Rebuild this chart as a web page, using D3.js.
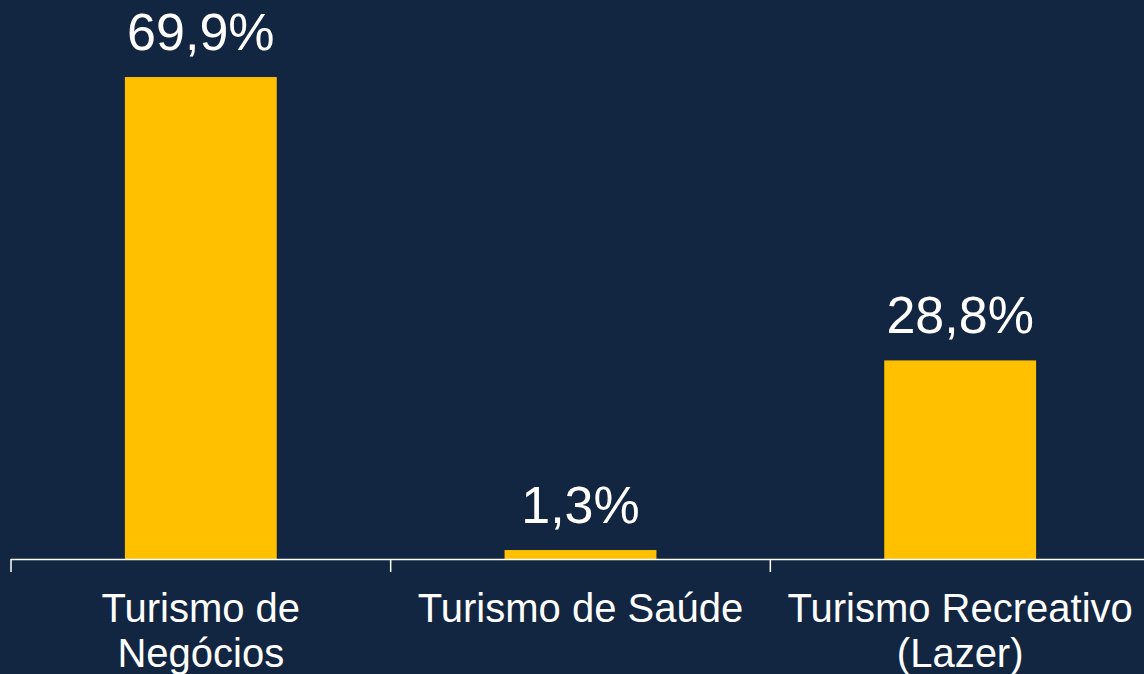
<!DOCTYPE html>
<html>
<head>
<meta charset="utf-8">
<script src="https://cdn.jsdelivr.net/npm/d3@7"></script>
<style>
  html, body { margin: 0; padding: 0; background: #122641; }
  svg { display: block; font-family: "Liberation Sans", Arial, sans-serif; }
</style>
</head>
<body>
<script>
const categories = ["Turismo de Negócios", "Turismo de Saúde", "Turismo Recreativo (Lazer)"];
const labelLines = [["Turismo de", "Negócios"], ["Turismo de Saúde"], ["Turismo Recreativo", "(Lazer)"]];
const values = [69.9, 1.3, 28.8];
const valueLabels = ["69,9%", "1,3%", "28,8%"];

const width = 1144;
const height = 674;
const baseY = 559;

const svg = d3.select("body").append("svg").attr("width", width).attr("height", height);

svg.append("rect").attr("width", width).attr("height", height).attr("fill", "#122641");

// x: one band per category, ticks on band edges
const xScale = d3.scaleBand()
  .domain(categories)
  .range([11, 1150])
  .padding(0);

const yScale = d3.scaleLinear()
  .domain([0, 70])
  .range([baseY, baseY - 70 * 6.895]);

const barWidth = xScale.bandwidth() * 0.4;

// bars
svg.append("g").selectAll("rect")
  .data(values)
  .enter()
  .append("rect")
  .attr("x", (d, i) => xScale(categories[i]) + (xScale.bandwidth() - barWidth) / 2)
  .attr("y", d => yScale(d))
  .attr("width", barWidth)
  .attr("height", d => yScale(0) - yScale(d))
  .attr("fill", "#FFC000");

// value labels
svg.append("g").selectAll("text")
  .data(values)
  .enter()
  .append("text")
  .attr("x", (d, i) => xScale(categories[i]) + xScale.bandwidth() / 2)
  .attr("y", d => yScale(d) - 27)
  .attr("text-anchor", "middle")
  .attr("fill", "#ffffff")
  .style("font-size", "52px")
  .text((d, i) => valueLabels[i]);

// axis line and tick marks on band boundaries
const axis = svg.append("g").attr("stroke", "#ffffff").attr("stroke-width", 1.5);
axis.append("line")
  .attr("x1", xScale.range()[0]).attr("x2", xScale.range()[1])
  .attr("y1", baseY + 0.5).attr("y2", baseY + 0.5);
const edges = categories.map(c => xScale(c)).concat([xScale.range()[1]]);
axis.selectAll(".tick")
  .data(edges)
  .enter()
  .append("line")
  .attr("x1", d => d).attr("x2", d => d)
  .attr("y1", baseY).attr("y2", baseY + 13);

// category labels
const catG = svg.append("g").selectAll("text")
  .data(categories)
  .enter()
  .append("text")
  .attr("x", d => xScale(d) + xScale.bandwidth() / 2)
  .attr("y", 622)
  .attr("text-anchor", "middle")
  .attr("fill", "#ffffff")
  .style("font-size", "40px");

catG.selectAll("tspan")
  .data((d, i) => labelLines[i])
  .enter()
  .append("tspan")
  .attr("x", function () { return d3.select(this.parentNode).attr("x"); })
  .attr("dy", (d, j) => j === 0 ? 0 : 45)
  .text(d => d);
</script>
</body>
</html>
